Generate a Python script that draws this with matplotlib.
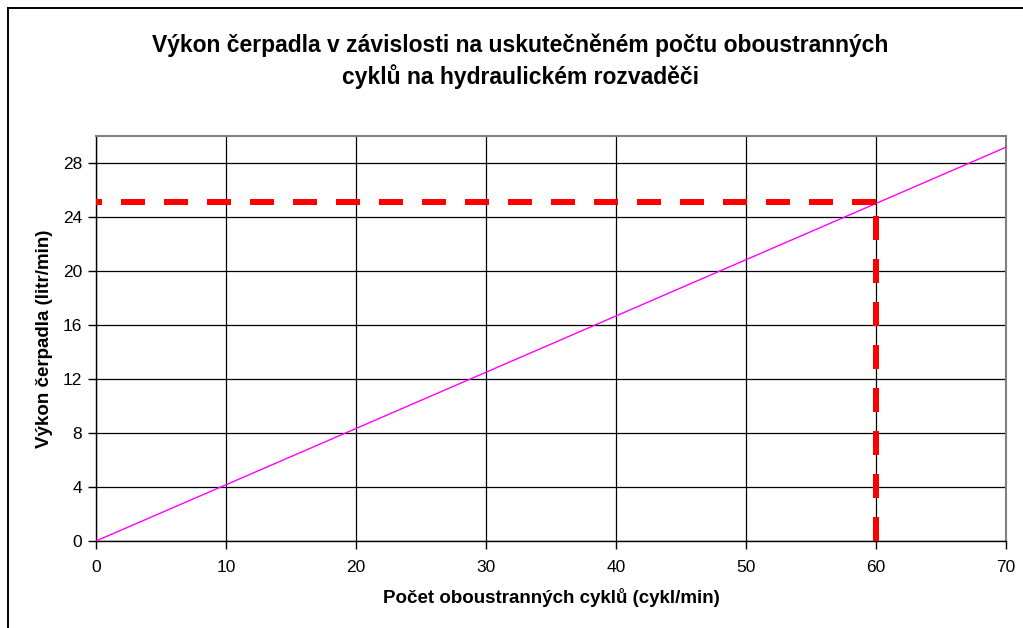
import matplotlib
matplotlib.use("Agg")
import matplotlib.pyplot as plt
from matplotlib.lines import Line2D

plt.rcParams['font.family'] = ['Liberation Sans', 'DejaVu Sans']
plt.rcParams['lines.scale_dashes'] = False

# Data
cycles = [0, 70]
flow = [0, 29.17]
mark_x = 60
mark_y = 25.1
x_ticks = [0, 10, 20, 30, 40, 50, 60, 70]
y_ticks = [0, 4, 8, 12, 16, 20, 24, 28]

title = "Výkon čerpadla v závislosti na uskutečněném počtu oboustranných\ncyklů na hydraulickém rozvaděči"
xlabel = "Počet oboustranných cyklů (cykl/min)"
ylabel = "Výkon čerpadla (litr/min)"

W, H = 1023, 628
fig = plt.figure(figsize=(W / 100, H / 100), dpi=100)
ax = fig.add_axes([96 / W, 1 - 541 / H, (1006 - 96) / W, (541 - 136) / H])

ax.set_xlim(0, 70)
ax.set_ylim(0, 30)
ax.set_xticks(x_ticks)
ax.set_yticks(y_ticks)
ax.grid(True, color='black', linewidth=0.9)
ax.set_axisbelow(True)

for s in ['top', 'right']:
    ax.spines[s].set_color('#808080')
    ax.spines[s].set_linewidth(1.5)
for s in ['left', 'bottom']:
    ax.spines[s].set_color('black')
    ax.spines[s].set_linewidth(1.0)

ax.tick_params(direction='out', length=6, width=1, labelsize=12.5, pad=4)
ax.tick_params(axis='x', pad=8)

ax.plot(cycles, flow, color='#FF00FF', linewidth=1.0, zorder=3)

px = 0.72
ax.plot([mark_x, 0], [mark_y, mark_y], color='#FF0000', linewidth=6 * px,
        linestyle=(0, (24 * px, 19 * px)), dash_capstyle='butt', zorder=4, clip_on=False)
ax.plot([mark_x, mark_x], [0, mark_y], color='#FF0000', linewidth=6 * px,
        linestyle=(0, (24 * px, 19 * px)), dash_capstyle='butt', zorder=4, clip_on=False)

fig.text(520 / W, 1 - 61 / H, title, ha='center', va='center', fontsize=16.5,
         fontweight='bold', linespacing=1.35)
ax.set_xlabel(xlabel, fontsize=13.5, fontweight='bold', labelpad=9)
ax.set_ylabel(ylabel, fontsize=13.5, fontweight='bold', labelpad=7)

# outer frame (left and top borders)
fig.add_artist(Line2D([8 / W, 8 / W], [0, 1 - 8 / H], transform=fig.transFigure, color='black', linewidth=1.4))
fig.add_artist(Line2D([8 / W, 1], [1 - 8 / H, 1 - 8 / H], transform=fig.transFigure, color='black', linewidth=1.4))

fig.savefig('out.png', dpi=100)
